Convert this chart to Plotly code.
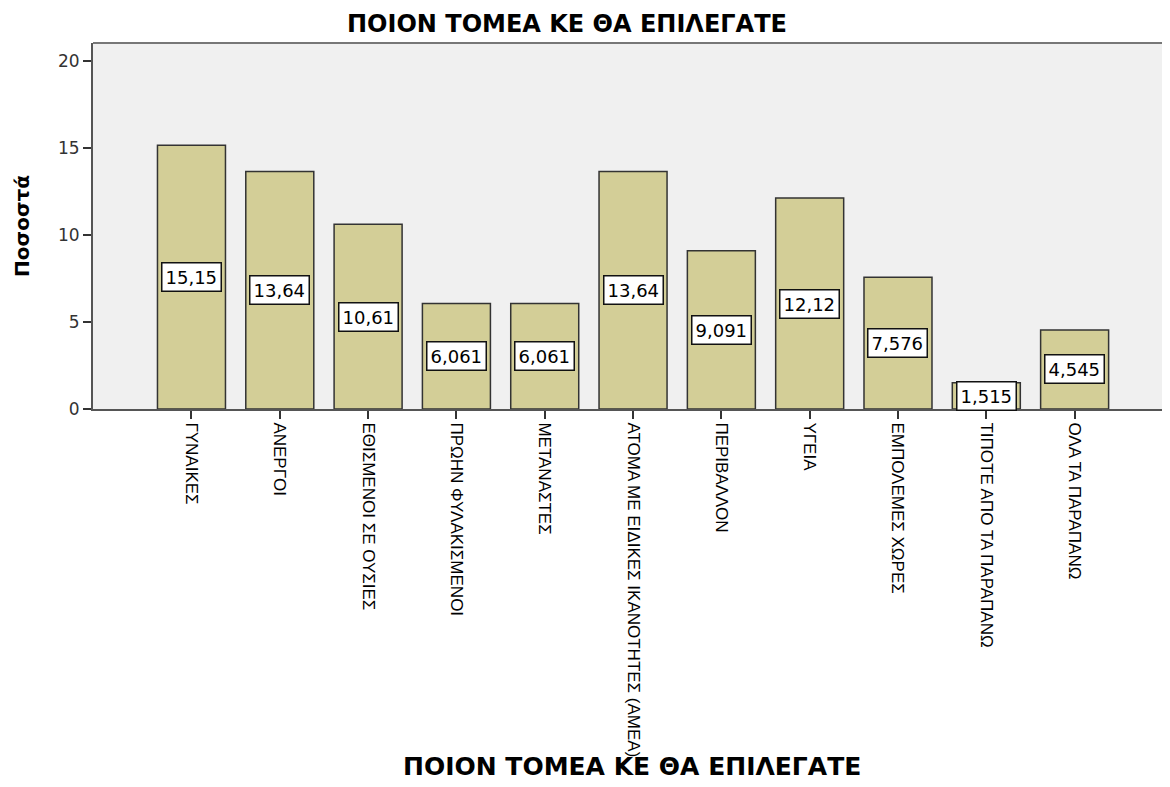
import plotly.graph_objects as go

categories = [
    "ΓΥΝΑΙΚΕΣ",
    "ΑΝΕΡΓΟΙ",
    "ΕΘΙΣΜΕΝΟΙ ΣΕ ΟΥΣΙΕΣ",
    "ΠΡΩΗΝ ΦΥΛΑΚΙΣΜΕΝΟΙ",
    "ΜΕΤΑΝΑΣΤΕΣ",
    "ΑΤΟΜΑ ΜΕ ΕΙΔΙΚΕΣ ΙΚΑΝΟΤΗΤΕΣ (ΑΜΕΑ)",
    "ΠΕΡΙΒΑΛΛΟΝ",
    "ΥΓΕΙΑ",
    "ΕΜΠΟΛΕΜΕΣ ΧΩΡΕΣ",
    "ΤΙΠΟΤΕ ΑΠΟ ΤΑ ΠΑΡΑΠΑΝΩ",
    "ΟΛΑ ΤΑ ΠΑΡΑΠΑΝΩ",
]
percent = [15.15, 13.64, 10.61, 6.061, 6.061, 13.64, 9.091, 12.12, 7.576, 1.515, 4.545]
y_ticks = [0, 5, 10, 15, 20]

title_text = "ΠΟΙΟΝ ΤΟΜΕΑ ΚΕ ΘΑ ΕΠΙΛΕΓΑΤΕ"
base_font = "Liberation Sans, Arial, sans-serif"
wide_font = "DejaVu Sans, Verdana, sans-serif"

fig = go.Figure()
fig.add_trace(go.Bar(
    x=list(range(len(categories))),
    y=percent,
    width=0.77,
    marker=dict(color="#D3CE97", line=dict(color="#333333", width=1.5)),
    hoverinfo="skip",
))

# value labels in white boxes, halfway up each bar
for i, v in enumerate(percent):
    fig.add_annotation(
        x=i, y=v / 2, xref="x", yref="y",
        text=f"{v:.4g}".replace(".", ","),
        showarrow=False,
        font=dict(family=wide_font, size=18, color="#000000"),
        bgcolor="#FFFFFF", bordercolor="#111111", borderwidth=1.5, borderpad=3,
    )

# titles
fig.add_annotation(
    x=0.44, y=1.0956, xref="paper", yref="paper", xanchor="center", yanchor="top",
    text="<b>" + title_text + "</b>", showarrow=False,
    font=dict(family=wide_font, size=24, color="#000000"),
)
fig.add_annotation(
    x=0.5, y=-0.978, xref="paper", yref="paper", xanchor="center", yanchor="middle",
    text="<b>" + title_text + "</b>", showarrow=False,
    font=dict(family=wide_font, size=25, color="#000000"),
)
fig.add_annotation(
    x=-0.066, y=0.5, xref="paper", yref="paper", xanchor="center", yanchor="middle",
    text="<b>Ποσοστά</b>", showarrow=False, textangle=-90,
    font=dict(family=wide_font, size=20, color="#000000"),
)

# the page adds an 8px body margin, so the figure is sized to fit inside it
fig.update_layout(
    width=1162, height=779,
    margin=dict(l=85, r=0, t=35, b=378),
    paper_bgcolor="#FFFFFF",
    plot_bgcolor="#F0F0F0",
    showlegend=False,
)
fig.update_xaxes(
    range=[-1.115, 11.08],
    automargin=False,
    tickmode="array",
    tickvals=list(range(len(categories))),
    ticktext=categories,
    tickangle=90,
    ticks="outside", ticklen=8, tickwidth=2, tickcolor="#333333",
    tickfont=dict(family=base_font, size=17, color="#000000"),
    showline=True, linecolor="#555555", linewidth=2,
    showgrid=False, zeroline=False,
)
fig.update_yaxes(
    range=[0, 21.03],
    automargin=False,
    tickmode="array",
    tickvals=y_ticks,
    ticks="outside", ticklen=8, tickwidth=2, tickcolor="#333333",
    tickfont=dict(family=wide_font, size=17, color="#333333"),
    showline=True, linecolor="#555555", linewidth=2,
    showgrid=False, zeroline=False,
)
# top border of the plot frame
fig.add_shape(
    type="line", xref="paper", yref="paper",
    x0=0, x1=1, y0=1, y1=1,
    line=dict(color="#777777", width=2),
)

fig.write_html("out.html")
